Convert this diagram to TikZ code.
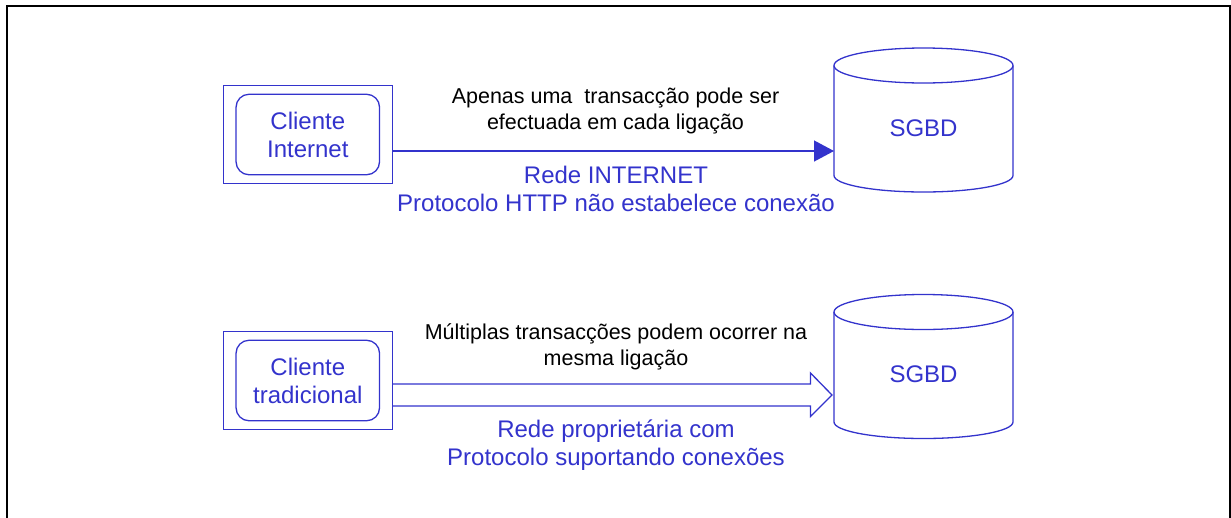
\documentclass[tikz,border=0pt]{standalone}
\usepackage{fontspec}
\setmainfont{Liberation Sans}
\usepackage[xetex]{xcolor}
\definecolor{azul}{RGB}{51,51,204}
\usetikzlibrary{arrows.meta}

\tikzset{
  azultext/.style={text=azul, font=\fontsize{24}{28}\selectfont, align=center},
  pretotext/.style={text=black, font=\fontsize{21.5}{26}\selectfont, align=center},
  traco/.style={azul, line width=1.3pt},
  caixa/.style={draw=azul, line width=1.3pt, minimum width=169pt, minimum height=98.5pt},
  interior/.style={draw=azul, line width=1.3pt, rounded corners=13pt, minimum width=143.5pt, minimum height=80.5pt, azultext}
}

\begin{document}
\begin{tikzpicture}[x=1pt, y=-1pt]
\def\Cilindro#1#2{
\draw [traco] (834,#1+18) -- (834,#1+128) arc [x radius=89.5, y radius=16.5, start angle=180, end angle=0] -- (1013,#1+18);
\draw [traco] (923.5,#1+18) ellipse [x radius=89.5, y radius=17.5];
\node [azultext] (#2) at (923.5,#1+80.5) {SGBD};
}
\useasboundingbox (0,0) rectangle (1231,517);
\draw [line width=2pt] (7,520) -- (7,6) -- (1230,6) -- (1230,520);

% primeiro cenario
\node [caixa] (clienteA) at (307.8,134.5) {};
\node [interior] (internet) at (clienteA) {Cliente\\Internet};
\Cilindro{47.5}{sgbdA}
\coordinate (entradaA) at (834,151);
\draw [traco, -{Triangle[length=20pt, width=21pt]}] (clienteA.east |- entradaA) -- (entradaA);
\node [pretotext] (notaA) at (615.5,111) {Apenas uma\ \ transacção pode ser\\efectuada em cada ligação};
\node [azultext] (redeA) at (616,188.5) {Rede INTERNET\\Protocolo HTTP não estabelece conexão};

% segundo cenario
\node [caixa, minimum height=97.5pt] (clienteB) at (307.8,380.5) {};
\node [interior] (tradicional) at (clienteB) {Cliente\\tradicional};
\Cilindro{294}{sgbdB}
\coordinate (entradaB) at (832,395);
\node [pretotext] (notaB) at (616,347) {Múltiplas transacções podem ocorrer na\\mesma ligação};
\node [azultext] (redeB) at (616,445) {Rede proprietária com\\Protocolo suportando conexões};
\draw [traco] (clienteB.east |- 0,384) -- (810.5,384) -- (810.5,373) -- (entradaB) -- (810.5,416.5) -- (810.5,406) -- (clienteB.east |- 0,406);
\end{tikzpicture}
\end{document}
